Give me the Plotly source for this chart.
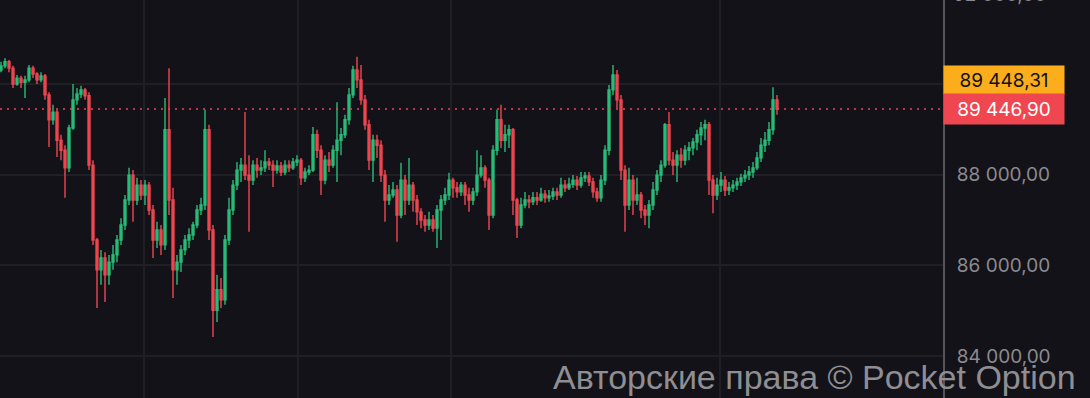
import plotly.graph_objects as go

# ---- data (prices) ----
first_open = 90310
closes = [90400, 90490, 90350, 90000, 90130, 90040, 90090, 90350, 90220, 90090,
          90180, 89760, 89210, 89380, 88760, 88540, 88150, 89030, 89650, 89780,
          89870, 89740, 88210, 86560, 85900, 86160, 85790, 86070, 86230, 86560,
          86890, 87440, 87990, 87440, 87770, 87550, 87770, 87220, 86560, 86780,
          86450, 88990, 87440, 85900, 86070, 86340, 86560, 86670, 86890, 87220,
          87330, 88990, 86780, 85010, 85460, 85240, 86560, 87220, 87770, 88100,
          88210, 87990, 87880, 88210, 88100, 88150, 88280, 88210, 88100, 88190,
          88060, 88210, 88150, 88280, 88320, 87930, 88060, 88100, 88880, 88540,
          87880, 88320, 88210, 88540, 88760, 88880, 89210, 89760, 90310, 90090,
          89650, 89100, 88320, 88760, 88650, 87990, 87440, 87550, 87660, 87110,
          87880, 87440, 87770, 87440, 87180, 87000, 86890, 87000, 86820, 87220,
          87440, 87550, 87880, 87710, 87620, 87770, 87550, 87440, 87620, 87990,
          88150, 87880, 87110, 88540, 89210, 88760, 88880, 88990, 87440, 86890,
          87330, 87440, 87400, 87490, 87440, 87570, 87490, 87530, 87620, 87550,
          87770, 87710, 87790, 87880, 87770, 87930, 87970, 87840, 87620, 87490,
          87880, 88540, 89870, 90200, 89650, 88100, 87330, 87880, 87440, 87550,
          87220, 87110, 87330, 87660, 87990, 88210, 89100, 88320, 88210, 88430,
          88320, 88540, 88590, 88720, 88880, 89030, 89100, 87880, 87550, 87770,
          87880, 87660, 87710, 87770, 87840, 87930, 87990, 88060, 88150, 88370,
          88650, 88760, 88990, 89650, 89446.90]
highs = [90490, 90570, 90530, 90400, 90200, 90180, 90180, 90420, 90400, 90260,
         90260, 90220, 89820, 89540, 89430, 88880, 88650, 89100, 90000, 89910,
         89960, 89910, 89820, 88320, 86600, 86340, 86290, 86230, 86450, 86670,
         87040, 87550, 88150, 88100, 87930, 87880, 87880, 87840, 87330, 86960,
         86890, 89690, 90350, 87710, 86230, 86450, 86670, 86820, 86960, 87330,
         87490, 89430, 89100, 86890, 85790, 85720, 86670, 87490, 87880, 88280,
         88370, 89380, 88430, 88320, 88370, 88320, 88540, 88370, 88320, 88320,
         88280, 88320, 88320, 88370, 88430, 88370, 88150, 88210, 89050, 88990,
         88650, 88430, 88500, 88650, 89600, 89030, 89320, 89910, 90400, 90600,
         90420, 89760, 89210, 88880, 88880, 88760, 88100, 87770, 87840, 87770,
         88260, 87990, 88370, 87840, 87550, 87260, 87110, 87180, 87110, 87330,
         87550, 87710, 88040, 87930, 87840, 87840, 87840, 87710, 87710, 88540,
         88430, 88210, 87930, 88650, 89430, 89540, 89100, 89100, 89030, 87490,
         87490, 87620, 87550, 87620, 87620, 87710, 87660, 87660, 87710, 87710,
         87930, 87880, 87930, 87990, 87970, 88060, 88060, 88060, 87930, 87710,
         87990, 88650, 89980, 90420, 90310, 89760, 88210, 88150, 87990, 87930,
         87620, 87330, 87440, 87840, 88100, 88320, 89140, 89380, 88500, 88540,
         88590, 88650, 88720, 88810, 88990, 89160, 89210, 89160, 87990, 87930,
         88060, 87970, 87840, 87880, 87930, 88020, 88100, 88190, 88280, 88500,
         88810, 88940, 89160, 89930, 89760]
lows = [90260, 90350, 90260, 89910, 89960, 89910, 89690, 90040, 90130, 90000,
        90040, 89650, 88610, 89100, 88390, 88320, 87490, 88060, 88990, 89540,
        89690, 89650, 88100, 86450, 85060, 85570, 85190, 85570, 85900, 86070,
        86450, 86780, 87330, 86960, 87330, 87440, 87330, 87110, 86160, 86380,
        86230, 86340, 87110, 85280, 85570, 85850, 86230, 86380, 86560, 86820,
        87110, 87220, 86560, 84420, 84750, 85060, 85130, 86450, 87110, 87660,
        87840, 87880, 86740, 87770, 87930, 87990, 88060, 88100, 87730, 88020,
        87970, 87990, 88060, 88100, 88190, 87770, 87840, 87990, 88060, 88370,
        87550, 87790, 88060, 88150, 87840, 88430, 88810, 89100, 89690, 89910,
        89540, 88990, 88100, 87840, 88370, 87840, 86960, 87330, 87490, 86520,
        87040, 87110, 87330, 87180, 86890, 86820, 86740, 86780, 86740, 86380,
        86560, 87330, 87440, 87490, 87490, 87530, 87330, 87180, 87330, 87530,
        87930, 87710, 86780, 87040, 88430, 88590, 88500, 88590, 87110, 86600,
        86820, 87260, 87260, 87330, 87330, 87400, 87380, 87400, 87440, 87440,
        87490, 87620, 87660, 87710, 87660, 87710, 87840, 87750, 87490, 87400,
        87400, 87770, 88430, 89760, 89470, 87880, 86740, 87220, 87110, 87330,
        87040, 86890, 86820, 87220, 87550, 87840, 88150, 88210, 87990, 87840,
        88150, 88210, 88320, 88430, 88540, 88650, 88760, 87550, 87150, 87440,
        87620, 87530, 87550, 87620, 87660, 87750, 87840, 87880, 87930, 88100,
        88280, 88500, 88650, 88880, 89320]
opens = [first_open] + closes[:-1]
idx = list(range(len(closes)))

y_ticks = [84000, 86000, 88000, 90000]
top_tick = 92000
grid_x = [35.75, 74.25, 112.5, 179.75]
ask_price = 89448.31
last_price = 89446.90
watermark = "Авторские права © Pocket Option"

GREEN = "#27bd78"
RED = "#ef4650"
BG = "#131218"
GRID = "#211f26"
TICK = "#8b8a90"


def fmt(v):
    return f"{v:,.2f}".replace(",", " ").replace(".", ",")


fig = go.Figure(go.Candlestick(
    x=idx, open=opens, high=highs, low=lows, close=closes,
    increasing=dict(line=dict(color=GREEN, width=1.4), fillcolor=GREEN),
    decreasing=dict(line=dict(color=RED, width=1.4), fillcolor=RED),
    whiskerwidth=0, showlegend=False, hoverinfo="skip",
))

fig.add_shape(type="line", xref="paper", x0=0, x1=1, yref="y",
              y0=last_price, y1=last_price,
              line=dict(color=RED, width=1.5, dash="2px,5px"))

# partially visible top tick label (its value sits just above the visible range)
fig.add_annotation(xref="paper", x=1, xanchor="left", xshift=8,
                   yref="paper", y=1 + 6 / 398, yanchor="middle",
                   text=fmt(top_tick), showarrow=False,
                   font=dict(family="Inter", size=19, color=TICK))

fig.add_annotation(xref="paper", x=1, xanchor="left", yref="y", y=ask_price,
                   yshift=29, text=fmt(ask_price), showarrow=False,
                   bgcolor="#fbad1c", width=114, height=22, borderpad=3,
                   align="center", font=dict(family="Inter", size=19, color="#111"))
fig.add_annotation(xref="paper", x=1, xanchor="left", yref="y", y=last_price,
                   text=fmt(last_price), showarrow=False,
                   bgcolor=RED, width=114, height=24, borderpad=3,
                   align="center", font=dict(family="Inter", size=19, color="#ffffff"))

fig.add_annotation(xref="paper", x=1078 / 943, xanchor="right",
                   yref="paper", y=1 - 377 / 398, yanchor="middle",
                   text=watermark, showarrow=False,
                   font=dict(family="Liberation Sans", size=34, color="#8e8e93"))

fig.update_layout(
    width=1090, height=398,
    margin=dict(l=0, r=147, t=0, b=0),
    paper_bgcolor=BG, plot_bgcolor=BG,
    separators=", ",
    xaxis=dict(range=[-0.25, 235.5], rangeslider=dict(visible=False),
               tickvals=grid_x, showticklabels=False, showgrid=True,
               gridcolor=GRID, gridwidth=2, zeroline=False, fixedrange=True),
    yaxis=dict(range=[83073, 91853], side="right", tickvals=y_ticks,
               tickformat=",.2f", showgrid=True, gridcolor=GRID, gridwidth=2,
               zeroline=False, showline=True, linecolor="#55545a", linewidth=2,
               ticks="", ticklabelstandoff=8,
               tickfont=dict(family="Inter", size=19, color=TICK)),
)

fig.write_html("out.html", config={"displayModeBar": False})
